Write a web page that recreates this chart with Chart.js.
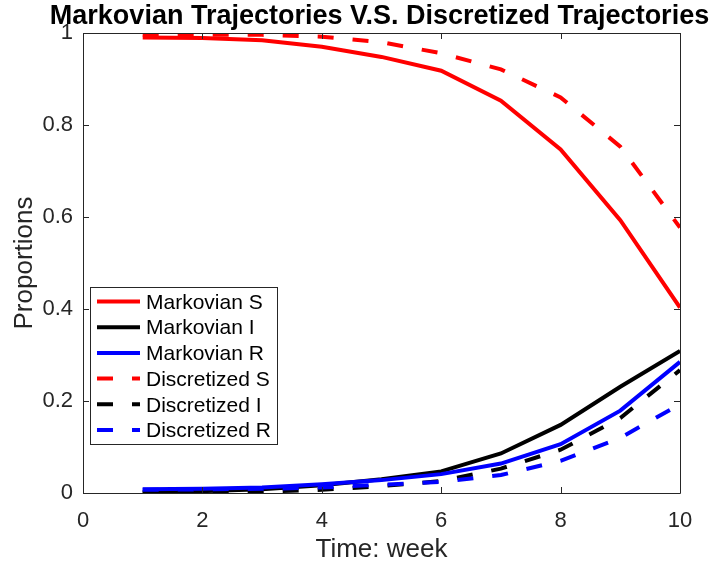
<!DOCTYPE html>
<html>
<head>
<meta charset="utf-8">
<script src="https://cdn.jsdelivr.net/npm/chart.js@4/dist/chart.umd.min.js"></script>
<style>
  html, body { margin: 0; padding: 0; background: #fff; }
  #wrap { width: 713px; height: 566px; }
</style>
</head>
<body>
<div id="wrap"><canvas id="trajChart" width="713" height="566"></canvas></div>
<script>
// weeks on x axis
const weeks = [1, 2, 3, 4, 5, 6, 7, 8, 9, 10];

// proportions
const markovS = [0.990, 0.989, 0.984, 0.970, 0.948, 0.918, 0.853, 0.747, 0.593, 0.403];
const markovI = [0.002, 0.004, 0.008, 0.017, 0.030, 0.047, 0.086, 0.148, 0.231, 0.309];
const markovR = [0.008, 0.009, 0.012, 0.019, 0.028, 0.041, 0.064, 0.106, 0.179, 0.285];
const discS   = [0.996, 0.996, 0.996, 0.992, 0.980, 0.956, 0.921, 0.860, 0.753, 0.577];
const discI   = [0.000, 0.001, 0.003, 0.007, 0.015, 0.026, 0.053, 0.094, 0.163, 0.267];
const discR   = [0.007, 0.008, 0.009, 0.012, 0.018, 0.024, 0.039, 0.070, 0.120, 0.193];

const seriesLabels = ["Markovian S", "Markovian I", "Markovian R", "Discretized S", "Discretized I", "Discretized R"];
const seriesValues = [markovS, markovI, markovR, discS, discI, discR];
const seriesColors = ["#ff0000", "#000000", "#0000ff", "#ff0000", "#000000", "#0000ff"];
const seriesDashed = [false, false, false, true, true, true];

const xTicks = [0, 2, 4, 6, 8, 10];
const yTicks = [0, 0.2, 0.4, 0.6, 0.8, 1];

const titleText = "Markovian Trajectories V.S. Discretized Trajectories";

const FONT = "'Liberation Sans', Arial, Helvetica, sans-serif";
const AXIS_COLOR = "#262626";
const DASH = [16, 19];

// box + inward ticks like matlab, plus the title over the axes
const boxPlugin = {
    id: "boxTicks",
    afterDraw(chart) {
        const ctx = chart.ctx;
        const a = chart.chartArea;
        const xs = chart.scales.x, ys = chart.scales.y;
        ctx.save();
        ctx.strokeStyle = AXIS_COLOR;
        ctx.lineWidth = 1;
        ctx.beginPath();
        ctx.rect(Math.round(a.left) + 0.5, Math.round(a.top) + 0.5,
                 Math.round(a.right - a.left), Math.round(a.bottom - a.top));
        const tl = 6;
        xTicks.forEach(v => {
            const px = Math.round(xs.getPixelForValue(v)) + 0.5;
            ctx.moveTo(px, a.bottom); ctx.lineTo(px, a.bottom - tl);
            ctx.moveTo(px, a.top); ctx.lineTo(px, a.top + tl);
        });
        yTicks.forEach(v => {
            const py = Math.round(ys.getPixelForValue(v)) + 0.5;
            ctx.moveTo(a.left, py); ctx.lineTo(a.left + tl, py);
            ctx.moveTo(a.right, py); ctx.lineTo(a.right - tl, py);
        });
        ctx.stroke();

        // title
        ctx.fillStyle = "#000";
        ctx.font = "bold 27px " + FONT;
        ctx.textAlign = "center";
        ctx.textBaseline = "alphabetic";
        ctx.fillText(titleText, (a.left + a.right) / 2 - 2, 24);
        ctx.restore();
    }
};

// legend drawn inside the plot, lower left
const legendPlugin = {
    id: "innerLegend",
    afterDraw(chart) {
        const ctx = chart.ctx;
        const a = chart.chartArea;
        const x0 = a.left + 7, y0 = 287, w = 187, h = 157;
        const rowH = 25.7;
        ctx.save();
        ctx.fillStyle = "#fff";
        ctx.fillRect(x0, y0, w, h);
        ctx.strokeStyle = AXIS_COLOR;
        ctx.lineWidth = 1;
        ctx.strokeRect(Math.round(x0) + 0.5, y0 + 0.5, w, h);
        ctx.font = "21px " + FONT;
        ctx.textBaseline = "middle";
        chart.data.datasets.forEach((ds, i) => {
            const cy = y0 + 14.5 + i * rowH;
            ctx.strokeStyle = ds.borderColor;
            ctx.lineWidth = 4;
            ctx.setLineDash(ds.borderDash || []);
            ctx.beginPath();
            ctx.moveTo(x0 + 7, cy);
            ctx.lineTo(x0 + 50, cy);
            ctx.stroke();
            ctx.setLineDash([]);
            ctx.fillStyle = "#000";
            ctx.fillText(ds.label, x0 + 56, cy + 1.5);
        });
        ctx.restore();
    }
};

new Chart(document.getElementById("trajChart"), {
    type: "line",
    data: {
        datasets: seriesLabels.map((lab, i) => ({
            label: lab,
            data: weeks.map((w, k) => ({ x: w, y: seriesValues[i][k] })),
            borderColor: seriesColors[i],
            borderWidth: 4,
            borderDash: seriesDashed[i] ? DASH : [],
            pointRadius: 0,
            tension: 0,
            fill: false,
            order: 6 - i
        }))
    },
    options: {
        responsive: false,
        animation: false,
        layout: { padding: { left: 0, right: 33, top: 33, bottom: 0 } },
        plugins: {
            legend: { display: false },
            tooltip: { enabled: false },
            title: { display: false }
        },
        scales: {
            x: {
                type: "linear",
                min: 0, max: 10,
                afterBuildTicks: s => { s.ticks = xTicks.map(v => ({ value: v })); },
                afterFit: s => { s.height = 73; },
                grid: { display: false },
                border: { display: false },
                ticks: { color: AXIS_COLOR, font: { family: FONT, size: 22 }, padding: 7, maxRotation: 0 },
                title: {
                    display: true, text: "Time: week", color: AXIS_COLOR,
                    font: { family: FONT, size: 26 }, padding: { top: 0, bottom: 1 }
                }
            },
            y: {
                type: "linear",
                min: 0, max: 1,
                afterBuildTicks: s => { s.ticks = yTicks.map(v => ({ value: v })); },
                afterFit: s => { s.width = 83; },
                grid: { display: false },
                border: { display: false },
                ticks: {
                    color: AXIS_COLOR, font: { family: FONT, size: 22 }, padding: 2,
                    callback: v => String(v)
                },
                title: {
                    display: true, text: "Proportions", color: AXIS_COLOR,
                    font: { family: FONT, size: 26 }, padding: { top: 9, bottom: 0 }
                }
            }
        }
    },
    plugins: [boxPlugin, legendPlugin]
});
</script>
</body>
</html>
